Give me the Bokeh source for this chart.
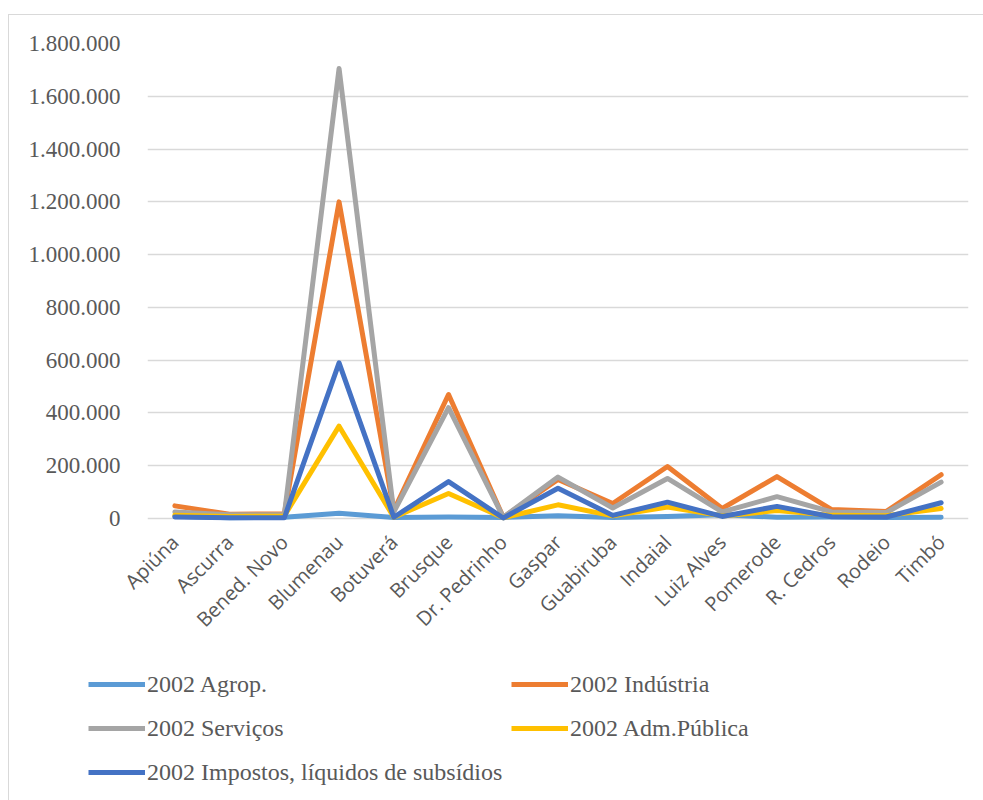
import math
from bokeh.plotting import figure
from bokeh.layouts import column
from bokeh.models import FixedTicker, Legend, LegendItem, Range1d, FactorRange
from bokeh.embed import file_html
from bokeh.resources import INLINE

categories = ["Apiúna", "Ascurra", "Bened. Novo", "Blumenau", "Botuverá", "Brusque",
              "Dr. Pedrinho", "Gaspar", "Guabiruba", "Indaial", "Luiz Alves",
              "Pomerode", "R. Cedros", "Rodeio", "Timbó"]

agrop = [9000, 3000, 5000, 20000, 4000, 6000, 4000, 11000, 4000, 8000, 14000, 5000, 6000, 4000, 5000]
industria = [48000, 16000, 18000, 1200000, 30000, 470000, 5000, 148000, 57000, 197000, 38000, 159000, 34000, 27000, 166000]
servicos = [25000, 14000, 14000, 1705000, 25000, 420000, 5000, 157000, 40000, 152000, 25000, 83000, 25000, 23000, 138000]
adm_publica = [12000, 8000, 10000, 350000, 5000, 95000, 3000, 52000, 10000, 44000, 10000, 30000, 12000, 11000, 38000]
impostos = [6000, 3000, 3000, 590000, 5000, 140000, 2000, 115000, 12000, 62000, 8000, 46000, 7000, 6000, 60000]

series_names = ["2002 Agrop.", "2002 Indústria", "2002 Serviços", "2002 Adm.Pública",
                "2002 Impostos, líquidos de subsídios"]
series_values = [agrop, industria, servicos, adm_publica, impostos]
series_colors = ["#5B9BD5", "#ED7D31", "#A5A5A5", "#FFC000", "#4472C4"]

y_ticks = [0, 200000, 400000, 600000, 800000, 1000000, 1200000, 1400000, 1600000, 1800000]
y_tick_labels = ["0", "200.000", "400.000", "600.000", "800.000", "1.000.000",
                 "1.200.000", "1.400.000", "1.600.000", "1.800.000"]

TEXT = "#595959"
GRID = "#d9d9d9"
W = 974

# ---------------- main chart ----------------
p = figure(x_range=categories, y_range=Range1d(-15000, 1800000),
           width=W, height=635, output_backend="svg", toolbar_location=None,
           min_border_left=138, min_border_right=15, min_border_top=28, min_border_bottom=128)
p.frame_align = False
p.outline_line_color = None
p.background_fill_color = "white"
p.border_fill_color = "white"

for vals, col in zip(series_values, series_colors):
    p.line(categories, vals, line_color=col, line_width=5,
           line_join="round", line_cap="round")

p.yaxis.ticker = FixedTicker(ticks=y_ticks)
p.yaxis.major_label_overrides = {t: l for t, l in zip(y_ticks, y_tick_labels)}
p.yaxis.axis_line_color = None
p.yaxis.major_tick_line_color = None
p.yaxis.minor_tick_line_color = None
p.yaxis.major_label_standoff = 21
p.yaxis.major_label_text_font = "Liberation Serif"
p.yaxis.major_label_text_font_size = "23px"
p.yaxis.major_label_text_color = TEXT

p.xaxis.axis_line_color = None
p.xaxis.major_tick_line_color = None
p.xaxis.minor_tick_line_color = None
p.xaxis.major_label_orientation = math.pi / 4
p.xaxis.major_label_standoff = 10
p.xaxis.major_label_text_font = "Open Sans"
p.xaxis.major_label_text_font_size = "20px"
p.xaxis.major_label_text_color = TEXT

p.xgrid.grid_line_color = None
p.ygrid.ticker = FixedTicker(ticks=y_ticks)
p.ygrid.grid_line_color = GRID
p.ygrid.grid_line_width = 1.5

# ---------------- legend strip ----------------
# same series, drawn out of view (y range below 0); only their legend entries show
LH = 150
lp = figure(x_range=FactorRange(factors=categories), y_range=Range1d(-2, -1),
            width=W, height=LH, output_backend="svg", toolbar_location=None,
            min_border=0, min_border_left=0, min_border_right=0,
            min_border_top=0, min_border_bottom=0)
lp.frame_align = False
lp.axis.visible = False
lp.grid.visible = False
lp.outline_line_color = None
lp.background_fill_color = "white"
lp.border_fill_color = "white"

legend_renderers = [lp.line(categories, vals, line_color=col, line_width=5)
                    for vals, col in zip(series_values, series_colors)]

def make_legend(idx, loc):
    lg = Legend(items=[LegendItem(label=series_names[i], renderers=[legend_renderers[i]]) for i in idx],
                location=loc, orientation="vertical")
    lg.border_line_color = None
    lg.background_fill_alpha = 0
    lg.padding = 0
    lg.margin = 0
    lg.glyph_width = 57
    lg.glyph_height = 32
    lg.label_height = 32
    lg.spacing = 12
    lg.label_standoff = 2
    lg.label_text_font = "Liberation Serif"
    lg.label_text_font_size = "24px"
    lg.label_text_color = TEXT
    return lg

lp.add_layout(make_legend([0, 2, 4], (79, LH - 18 - 120)))
lp.add_layout(make_legend([1, 3], (502, LH - 18 - 76)))

layout = column(p, lp, spacing=0)
layout.styles = {"margin-left": "8px", "margin-top": "14px",
                 "border-top": "1px solid #d9d9d9", "border-left": "1px solid #d9d9d9"}

open("out.html", "w").write(file_html(layout, INLINE))
